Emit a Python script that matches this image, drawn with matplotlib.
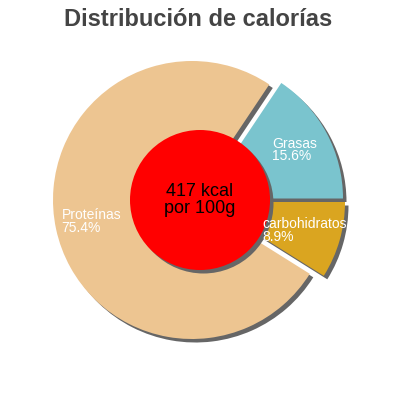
import matplotlib
matplotlib.use("Agg")
import matplotlib.pyplot as plt
import numpy as np

plt.rcParams['font.family'] = ['Liberation Sans', 'DejaVu Sans']

# data
nutrients = ["Grasas", "Proteínas", "carbohidratos"]
percent = [15.6, 75.4, 8.9]
kcal = 417
title = "Distribución de calorías"

# style
colors = ["#7ac4ce", "#edc591", "#daa520"]
offsets = [(12, 1.5), (0, 0), (14, -2)]   # pull-out of each slice, pixels
cx, cy, r = 192, 200, 139
sh = (3.5, -3.5)                           # shadow shift

fig = plt.figure(figsize=(4, 4), dpi=100)
ax = fig.add_axes([0, 0, 1, 1])

# shadows first, then the real slices
shadows, _ = ax.pie(percent, radius=r, center=(cx, cy), startangle=0,
                    colors=["#666666"] * len(percent),
                    wedgeprops=dict(linewidth=0), frame=True)
wedges, _ = ax.pie(percent, radius=r, center=(cx, cy), startangle=0,
                   colors=colors, wedgeprops=dict(linewidth=0), frame=True)
for s, w, (ox, oy) in zip(shadows, wedges, offsets):
    s.set_center((cx + ox + sh[0], cy + oy + sh[1]))
    w.set_center((cx + ox, cy + oy))

# slice labels
frac = np.array(percent) / np.sum(percent)
start = np.concatenate([[0], np.cumsum(frac)[:-1]]) * 360
mid = np.radians(start + frac * 180)
for name, p, a, (ox, oy) in zip(nutrients, percent, mid, offsets):
    x = cx + ox + 0.74 * r * np.cos(a)
    y = cy + oy + 0.74 * r * np.sin(a)
    ax.text(x, y, f"{name}\n{p}%", color="white", fontsize=10,
            ha="center", va="center", multialignment="left", linespacing=0.9)

# centre disc
ax.add_patch(plt.Circle((200 + sh[0], 200 + sh[1]), 70, color="#666666", lw=0))
ax.add_patch(plt.Circle((200, 200), 70, color="#ff0000", lw=0))
ax.text(200, 200, f"{kcal} kcal\npor 100g", fontsize=13, ha="center",
        va="center", linespacing=0.95)

ax.set_xlim(0, 400)
ax.set_ylim(0, 400)
ax.set_aspect("equal")
ax.axis("off")

fig.text(0.495, 0.952, title, fontsize=17, fontweight="bold", color="#444444",
         ha="center", va="center")

fig.savefig("out.png", dpi=100)
